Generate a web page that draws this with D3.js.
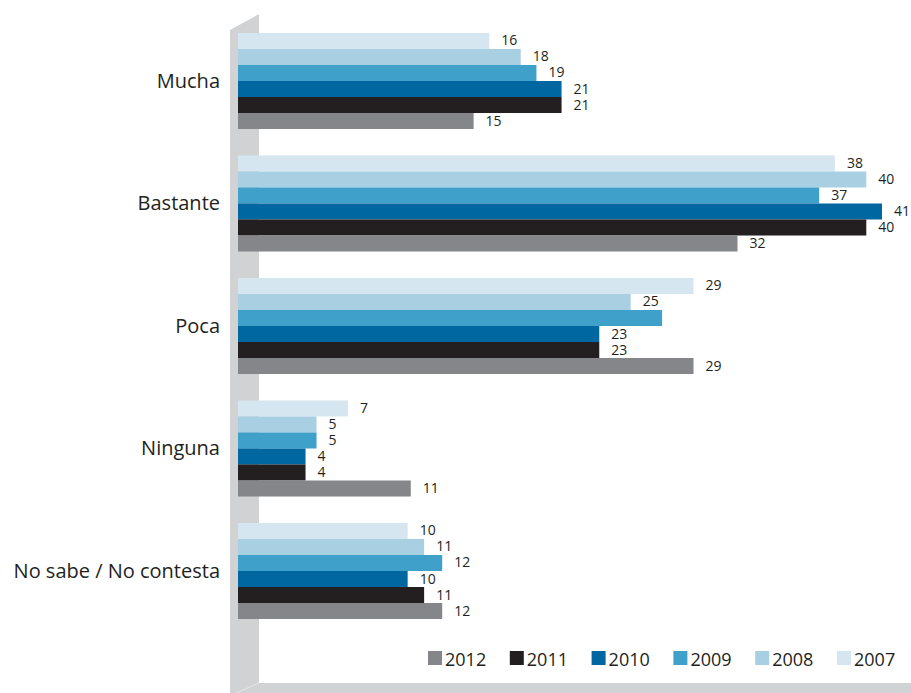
<!DOCTYPE html>
<html><head><meta charset="utf-8">
<script src="https://cdn.jsdelivr.net/npm/d3@7"></script>
<style>body{margin:0;background:#fff}svg{display:block}text{font-family:"Open Sans",sans-serif;fill:#231f20}</style>
</head><body><svg id="c" width="911" height="693"></svg>
<script>
const categories = ["Mucha","Bastante","Poca","Ninguna","No sabe / No contesta"];
const years = ["2007","2008","2009","2010","2011","2012"];          // top-to-bottom within group
const legendYears = ["2012","2011","2010","2009","2008","2007"];
const v2007 = [16, 38, 29, 7, 10.8];
const v2008 = [18, 40, 25, 5, 11.85];
const v2009 = [19, 37, 27, 5, 13];
const v2010 = [20.6, 41, 23, 4.3, 10.8];
const v2011 = [20.6, 40, 23, 4.3, 11.85];
const v2012 = [15, 31.8, 29, 11, 13];
const l2007 = ["16","38","29","7","10"];
const l2008 = ["18","40","25","5","11"];
const l2009 = ["19","37","","5","12"];
const l2010 = ["21","41","23","4","10"];
const l2011 = ["21","40","23","4","11"];
const l2012 = ["15","32","29","11","12"];
const colors = {"2007":"#d5e6f0","2008":"#a9cfe3","2009":"#3fa1c9","2010":"#0067a1","2011":"#231f20","2012":"#858689"};

const vals = {"2007":v2007,"2008":v2008,"2009":v2009,"2010":v2010,"2011":v2011,"2012":v2012};
const labs = {"2007":l2007,"2008":l2008,"2009":l2009,"2010":l2010,"2011":l2011,"2012":l2012};
const rows = [];
categories.forEach((c,i)=>years.forEach(y=>rows.push({c,y,v:vals[y][i],l:labs[y][i]})));

const svg = d3.select("#c");
// 3D wall and floor
svg.append("path").attr("d","M230,30 L259,14 L259,683 L911,683 L911,693 L230,693 Z").attr("fill","#d1d2d4");
svg.append("line").attr("x1",259).attr("y1",683).attr("x2",236).attr("y2",693).attr("stroke","#e4e5e6").attr("stroke-width",1);

const x = d3.scaleLinear().domain([0,41]).range([238,882]);
const y = d3.scaleBand().domain(categories).range([19.75,632.25]).paddingInner(0.216).paddingOuter(0.108);
const yi = d3.scaleBand().domain(years).range([0,y.bandwidth()]);

svg.selectAll("rect.bar").data(rows).join("rect").attr("class","bar")
  .attr("x",x(0)).attr("y",d=>y(d.c)+yi(d.y)).attr("width",d=>x(d.v)-x(0)).attr("height",yi.bandwidth())
  .attr("fill",d=>colors[d.y]);

svg.selectAll("text.val").data(rows.filter(d=>d.l!=="")).join("text").attr("class","val")
  .attr("x",d=>x(d.v)+12).attr("y",d=>y(d.c)+yi(d.y)+yi.bandwidth()/2-1)
  .attr("dominant-baseline","central").attr("font-size",14).text(d=>d.l);

svg.selectAll("text.cat").data(categories).join("text").attr("class","cat")
  .attr("x",220).attr("y",d=>y(d)+y.bandwidth()/2-1).attr("text-anchor","end")
  .attr("dominant-baseline","central").attr("font-size",20).text(d=>d);

const lx = d3.scalePoint().domain(legendYears).range([428,837]);
const lg = svg.selectAll("g.leg").data(legendYears).join("g").attr("class","leg")
  .attr("transform",d=>`translate(${lx(d)},651)`);
lg.append("rect").attr("width",14).attr("height",14).attr("fill",d=>colors[d]);
lg.append("text").attr("x",17).attr("y",7.5).attr("dominant-baseline","central").attr("font-size",18).text(d=>d);
</script></body></html>
